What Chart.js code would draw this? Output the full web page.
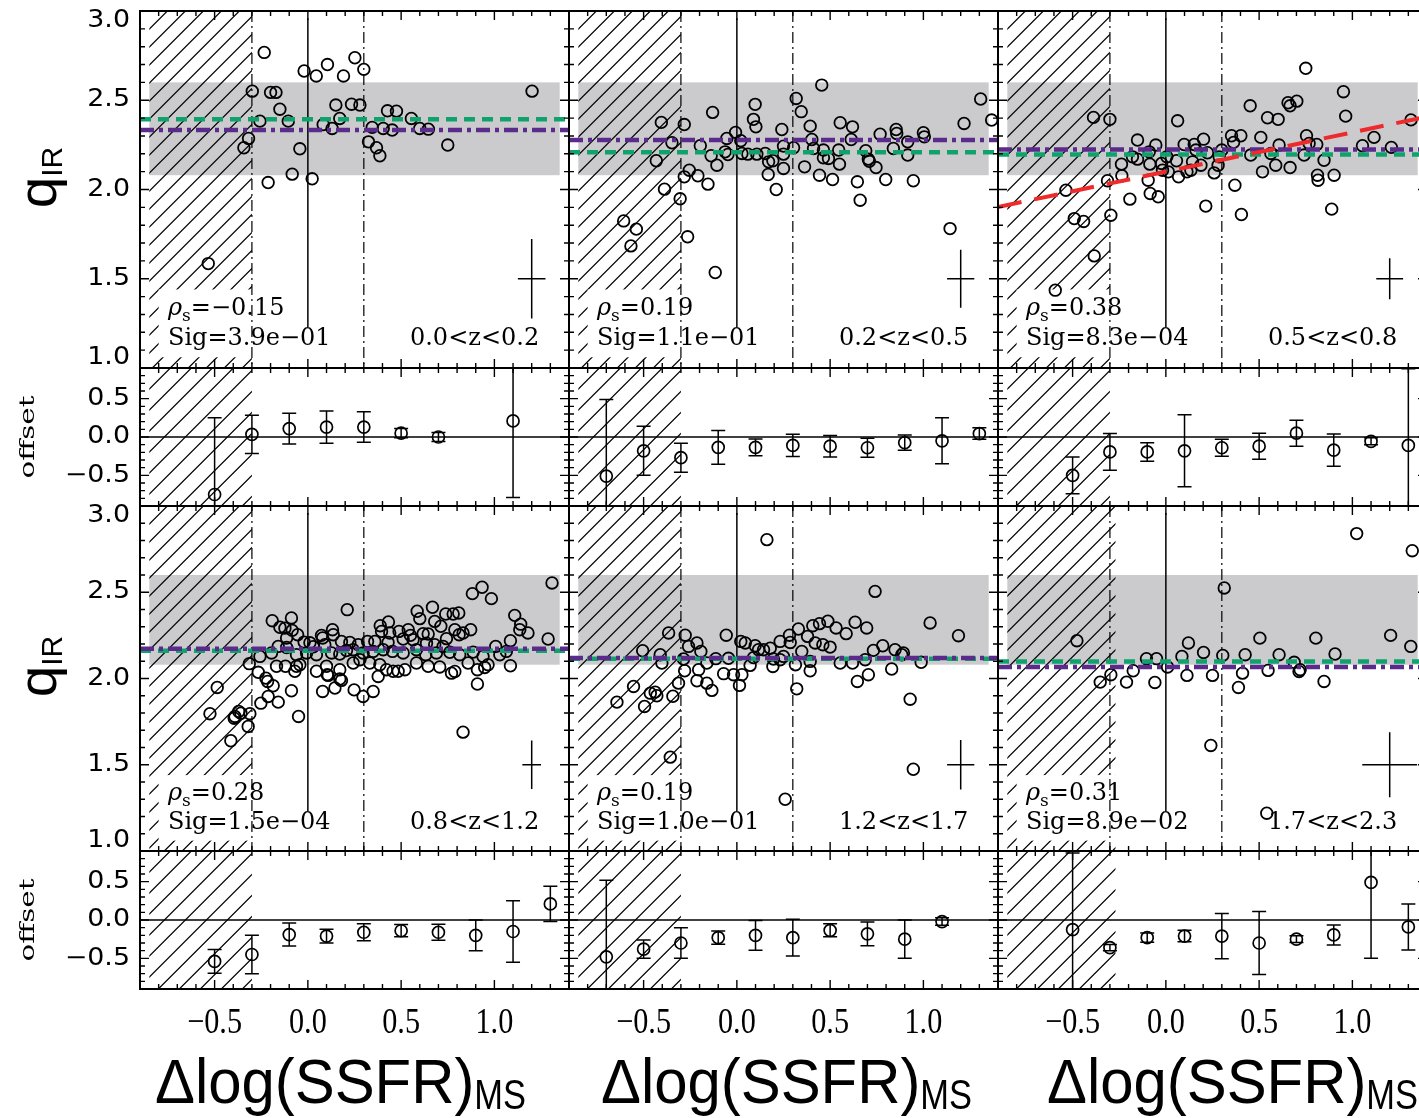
<!DOCTYPE html>
<html>
<head>
<meta charset="utf-8">
<script src="https://cdn.jsdelivr.net/npm/chart.js@4.4.1/dist/chart.umd.min.js"></script>
<style>
  html, body { margin: 0; padding: 0; background: #fff; overflow: hidden; }
  #fig { position: relative; width: 1419px; height: 1118px; overflow: hidden; background: #fff; }
  #fig canvas { position: absolute; }
</style>
</head>
<body>
<div id="fig"></div>
<script>
// ---- redshift bins and statistics ----
const zBins = ['0.0<z<0.2', '0.2<z<0.5', '0.5<z<0.8', '0.8<z<1.2', '1.2<z<1.7', '1.7<z<2.3'];
const rhoS = ['\u22120.15', '0.19', '0.38', '0.28', '0.19', '0.31'];
const sigVals = ['3.9e\u221201', '1.1e\u221201', '8.3e\u221204', '1.5e\u221204', '1.0e\u221201', '8.9e\u221202'];

// median / mean qIR of each bin
const qGreen = [2.393, 2.209, 2.196, 2.161, 2.115, 2.099];
const qPurple = [2.333, 2.277, 2.224, 2.173, 2.119, 2.067];

// typical uncertainty cross
const crossAt = [1.2, 1.5];
const crossErrX = [0.074, 0.073, 0.072, 0.05, 0.073, 0.147];
const crossErrY = [0.222, 0.162, 0.115, 0.141, 0.143, 0.189];

// excluded (hatched) region and reference band
const hatchStart = -0.85;
const hatchEnd = [-0.3, -0.3, -0.3, -0.3, -0.3, -0.27];
const bandX = [-0.85, 1.35];
const bandQ = [2.08, 2.60];
const msLines = [-0.3, 0.3];
const zeroLine = [1.23, 2.96];

// linear fit shown for 0.5<z<0.8
const fitX = [-0.9, 1.4];
const fitY = [1.902, 2.408];

// axis ranges and tick labels
const xRange = [-0.9, 1.4];
const qRange = [1.0, 3.0];
const offRange = [-0.9, 0.9];
const xTickVals = [-0.5, 0.0, 0.5, 1.0];
const qTickVals = [1.0, 1.5, 2.0, 2.5, 3.0];
const offTickVals = [-0.5, 0.0, 0.5];

// ---- individual galaxies: [dlog(SSFR)_MS, qIR] ----
const pts1 = [[-0.234,2.768],[-0.534,1.585],[-0.298,2.551],[-0.2,2.544],[-0.171,2.544],[-0.15,2.45],[-0.257,2.383],[-0.105,2.383],[-0.318,2.286],[-0.343,2.234],[-0.213,2.039],[-0.084,2.086],[-0.043,2.228],[-0.02,2.664],[0.045,2.636],[0.023,2.06],[0.105,2.70],[0.252,2.738],[0.30,2.673],[0.191,2.636],[0.15,2.473],[0.171,2.398],[0.082,2.364],[0.13,2.342],[0.234,2.478],[0.279,2.473],[0.345,2.348],[0.325,2.267],[0.368,2.234],[0.386,2.189],[0.404,2.342],[0.452,2.333],[0.427,2.441],[0.475,2.439],[0.555,2.398],[0.6,2.342],[0.646,2.338],[0.75,2.249],[1.202,2.551]];

const pts2 = [[0.455,2.585],[1.307,2.507],[0.318,2.510],[0.345,2.436],[0.098,2.477],[0.089,2.393],[0.102,2.351],[-0.13,2.432],[-0.405,2.376],[-0.282,2.364],[1.366,2.389],[1.218,2.370],[0.393,2.355],[0.554,2.374],[0.62,2.351],[0.241,2.336],[-0.007,2.320],[-0.054,2.286],[0.021,2.273],[0.402,2.280],[-0.348,2.262],[-0.196,2.245],[0.768,2.310],[0.854,2.336],[0.857,2.314],[1.0,2.318],[1.005,2.295],[0.916,2.267],[0.613,2.280],[0.25,2.243],[0.304,2.234],[0.411,2.230],[0.464,2.221],[0.546,2.221],[0.691,2.217],[0.839,2.230],[-0.063,2.211],[-0.048,2.196],[0.027,2.202],[0.059,2.198],[0.107,2.198],[0.152,2.202],[-0.138,2.189],[0.25,2.198],[-0.432,2.161],[-0.107,2.136],[0.17,2.155],[0.193,2.161],[0.464,2.178],[0.491,2.174],[0.55,2.142],[0.705,2.170],[0.71,2.158],[0.916,2.193],[0.363,2.127],[0.25,2.118],[0.746,2.123],[-0.255,2.108],[-0.282,2.071],[-0.209,2.077],[-0.155,2.030],[0.168,2.084],[0.443,2.080],[0.513,2.056],[0.646,2.043],[0.798,2.056],[0.946,2.049],[0.211,2.0],[-0.388,2.002],[-0.304,1.948],[0.661,1.940],[-0.607,1.824],[-0.539,1.778],[-0.568,1.684],[-0.264,1.735],[-0.116,1.535],[1.143,1.781]];

const pts3 = [[0.75,2.679],[0.952,2.548],[0.964,2.411],[0.452,2.469],[0.655,2.486],[0.666,2.469],[0.702,2.495],[0.545,2.402],[0.602,2.393],[0.063,2.385],[-0.388,2.404],[-0.3,2.393],[-0.152,2.277],[-0.054,2.249],[-0.089,2.211],[-0.152,2.170],[-0.179,2.183],[-0.238,2.142],[-0.086,2.142],[-0.023,2.146],[0.005,2.183],[-0.018,2.108],[0.013,2.099],[0.057,2.161],[-0.236,2.077],[-0.313,2.049],[-0.095,2.052],[-0.084,1.978],[-0.041,1.959],[-0.193,1.946],[-0.295,1.856],[-0.536,1.996],[-0.491,1.837],[-0.441,1.821],[-0.384,1.628],[-0.593,1.436],[0.098,2.252],[0.152,2.252],[0.202,2.282],[0.161,2.221],[0.223,2.206],[0.143,2.155],[0.113,2.099],[0.068,2.071],[0.134,2.108],[0.188,2.136],[0.259,2.093],[0.214,1.907],[0.3,2.221],[0.286,2.183],[0.28,2.136],[0.352,2.301],[0.402,2.301],[0.363,2.264],[0.37,2.024],[0.405,1.860],[0.455,2.193],[0.509,2.292],[0.518,2.099],[0.563,2.202],[0.607,2.249],[0.589,2.136],[0.666,2.123],[0.754,2.301],[0.768,2.258],[0.741,2.193],[0.809,2.252],[0.848,2.164],[0.813,2.080],[0.816,2.052],[0.902,2.080],[0.889,1.890],[1.054,2.245],[1.116,2.292],[1.209,2.236],[1.314,2.39]];

const pts4 = [[1.309,2.554],[0.934,2.529],[0.882,2.492],[0.984,2.463],[0.211,2.399],[0.668,2.413],[0.586,2.390],[0.739,2.374],[0.779,2.374],[0.809,2.380],[1.109,2.366],[-0.191,2.335],[-0.088,2.351],[0.6,2.347],[0.68,2.331],[0.713,2.303],[1.141,2.315],[1.136,2.283],[1.18,2.264],[-0.15,2.297],[-0.123,2.292],[-0.084,2.279],[0.388,2.306],[0.432,2.328],[0.132,2.283],[-0.055,2.254],[-0.114,2.235],[0.079,2.235],[0.073,2.250],[0.136,2.254],[0.395,2.273],[0.439,2.264],[0.489,2.273],[0.538,2.283],[0.55,2.250],[0.618,2.260],[0.645,2.258],[0.743,2.231],[0.788,2.283],[0.811,2.254],[0.832,2.264],[0.873,2.283],[1.086,2.219],[1.288,2.229],[1.007,2.186],[-0.02,2.211],[0.011,2.207],[0.029,2.184],[0.091,2.196],[0.18,2.215],[0.225,2.209],[0.27,2.196],[0.32,2.215],[0.359,2.215],[0.43,2.209],[0.511,2.229],[0.564,2.225],[0.636,2.205],[0.68,2.196],[0.725,2.186],[-0.159,2.186],[-0.114,2.180],[-0.257,2.128],[-0.195,2.148],[-0.061,2.138],[-0.007,2.148],[0.046,2.138],[0.127,2.148],[0.171,2.142],[0.207,2.162],[0.243,2.167],[0.296,2.148],[0.35,2.157],[0.404,2.167],[0.454,2.157],[0.511,2.148],[0.582,2.167],[0.632,2.138],[0.689,2.148],[0.761,2.152],[0.814,2.138],[0.886,2.153],[0.939,2.128],[1.029,2.138],[1.064,2.157],[-0.314,2.086],[-0.266,2.036],[-0.168,2.071],[-0.12,2.071],[-0.07,2.042],[-0.061,2.071],[-0.043,2.080],[0.046,2.042],[0.1,2.071],[0.104,2.022],[0.171,2.051],[0.243,2.090],[0.279,2.109],[0.332,2.090],[0.386,2.080],[0.421,2.051],[0.457,2.042],[0.484,2.042],[0.52,2.051],[0.582,2.090],[0.645,2.071],[0.707,2.067],[0.77,2.031],[0.788,2.041],[0.859,2.090],[0.909,2.051],[0.948,2.064],[0.966,2.080],[1.086,2.074],[-0.225,2.002],[-0.216,1.983],[-0.186,1.958],[0.109,2.018],[0.171,1.997],[0.18,1.989],[0.377,2.012],[0.909,1.968],[-0.486,1.948],[-0.088,1.929],[0.079,1.925],[0.145,1.945],[0.248,1.934],[0.296,1.896],[0.35,1.925],[-0.213,1.896],[-0.159,1.863],[-0.252,1.857],[-0.525,1.796],[-0.391,1.780],[-0.371,1.809],[-0.359,1.799],[-0.311,1.796],[-0.395,1.770],[-0.32,1.722],[-0.413,1.639],[-0.05,1.780],[0.832,1.689]];

const pts5 = [[0.161,2.805],[0.741,2.505],[1.036,2.322],[1.188,2.248],[0.634,2.326],[0.696,2.293],[0.488,2.332],[0.443,2.318],[0.407,2.306],[0.33,2.287],[0.532,2.293],[0.586,2.260],[0.282,2.251],[0.379,2.244],[-0.057,2.251],[-0.366,2.264],[-0.277,2.251],[-0.259,2.186],[-0.214,2.206],[-0.193,2.157],[-0.505,2.161],[-0.411,2.138],[-0.402,2.090],[0.021,2.215],[0.045,2.206],[0.098,2.190],[0.116,2.167],[0.143,2.167],[0.179,2.176],[0.232,2.215],[0.25,2.128],[0.286,2.209],[0.348,2.157],[0.42,2.206],[0.461,2.196],[0.5,2.182],[0.732,2.163],[0.782,2.190],[0.848,2.167],[0.893,2.148],[0.884,2.138],[-0.286,2.113],[-0.113,2.115],[-0.045,2.117],[0.089,2.121],[0.196,2.113],[0.232,2.109],[0.314,2.080],[0.393,2.099],[0.554,2.090],[0.62,2.090],[0.688,2.109],[0.988,2.094],[-0.161,2.090],[-0.205,2.051],[0.071,2.076],[0.193,2.070],[0.393,2.045],[-0.28,2.045],[-0.071,2.028],[-0.018,2.022],[0.027,2.022],[-0.313,1.973],[-0.214,1.987],[-0.161,1.973],[-0.134,1.931],[0.014,1.960],[0.646,1.983],[0.705,2.022],[0.83,2.055],[0.321,1.940],[0.929,1.880],[-0.554,1.954],[-0.643,1.863],[-0.464,1.915],[-0.438,1.921],[-0.429,1.900],[-0.495,1.838],[-0.343,1.897],[-0.357,1.544],[0.946,1.474],[0.259,1.300]];

const pts6 = [[1.023,2.840],[1.321,2.741],[0.313,2.525],[-0.477,2.219],[0.121,2.206],[0.086,2.128],[0.202,2.151],[0.305,2.134],[0.425,2.138],[0.504,2.234],[0.607,2.138],[0.804,2.234],[0.907,2.142],[1.205,2.250],[1.313,2.186],[-0.104,2.115],[-0.05,2.115],[0.009,2.067],[0.688,2.094],[0.72,2.051],[0.714,2.041],[0.548,2.047],[-0.295,2.022],[-0.352,1.979],[-0.211,1.979],[-0.175,2.045],[-0.059,1.977],[0.113,2.018],[0.25,2.018],[0.411,2.031],[0.389,1.948],[0.848,1.983],[0.241,1.612],[0.541,1.219]];

// ---- binned offsets with errors ----
const offX1 = [-0.5, -0.3, -0.1, 0.1, 0.3, 0.5, 0.7, 1.1];
const off1 = [-0.75, 0.035, 0.11, 0.13, 0.13, 0.05, 0.0, 0.21];
const offErr1 = [1.0, 0.25, 0.2, 0.21, 0.2, 0.06, 0.06, 1.0];

const offX2 = [-0.7, -0.5, -0.3, -0.1, 0.1, 0.3, 0.5, 0.7, 0.9, 1.1, 1.3];
const off2 = [-0.51, -0.18, -0.27, -0.135, -0.135, -0.11, -0.12, -0.14, -0.074, -0.05, 0.045];
const offErr2 = [1.0, 0.32, 0.19, 0.22, 0.11, 0.145, 0.14, 0.125, 0.1, 0.3, 0.075];

const offX3 = [-0.5, -0.3, -0.1, 0.1, 0.3, 0.5, 0.7, 0.9, 1.1, 1.3];
const off3 = [-0.5, -0.195, -0.195, -0.18, -0.14, -0.12, 0.05, -0.17, -0.056, -0.11];
const offErr3 = [0.24, 0.24, 0.12, 0.47, 0.11, 0.17, 0.17, 0.21, 0.045, 1.0];

const offX4 = [-0.5, -0.3, -0.1, 0.1, 0.3, 0.5, 0.7, 0.9, 1.1, 1.3];
const off4 = [-0.54, -0.45, -0.19, -0.21, -0.16, -0.14, -0.16, -0.20, -0.15, 0.21];
const offErr4 = [0.155, 0.25, 0.15, 0.09, 0.11, 0.08, 0.105, 0.2, 0.4, 0.23];

const offX5 = [-0.7, -0.5, -0.3, -0.1, 0.1, 0.3, 0.5, 0.7, 0.9, 1.1];
const off5 = [-0.48, -0.38, -0.30, -0.23, -0.2, -0.23, -0.135, -0.18, -0.25, -0.02];
const offErr5 = [1.0, 0.12, 0.2, 0.085, 0.195, 0.24, 0.085, 0.155, 0.25, 0.05];

const offX6 = [-0.5, -0.3, -0.1, 0.1, 0.3, 0.5, 0.7, 0.9, 1.1, 1.3];
const off6 = [-0.126, -0.36, -0.23, -0.21, -0.21, -0.30, -0.25, -0.195, 0.49, -0.09];
const offErr6 = [1.0, 0.04, 0.06, 0.075, 0.295, 0.41, 0.045, 0.13, 0.99, 0.3];

const galaxies = [pts1, pts2, pts3, pts4, pts5, pts6];
const offsets = [[offX1, off1, offErr1], [offX2, off2, offErr2], [offX3, off3, offErr3],
                 [offX4, off4, offErr4], [offX5, off5, offErr5], [offX6, off6, offErr6]];

// ---- page geometry ----
const colLeft = [140, 569, 998];
const colWidth = 429;
const titleShift = [-14, 3, 20];
const rows = [
  {main: [11, 357], off: [368, 138]},
  {main: [506, 345], off: [851, 138]},
];

const INK = '#000';
const GREEN = '#0fa26c';
const PURPLE = '#5a2b8b';
const RED = '#ee2a2a';
const GREY = '#cbcbcd';
const serif = '"DejaVu Serif", serif';
const sans = '"Liberation Sans", Arial, sans-serif';

const fig = document.getElementById('fig');
const fmt = v => v.toFixed(1).replace('-', '\u2212');

// write a row of text pieces (font changes, sub/superscripts) starting at x,y
function drawRuns(ctx, parts, x, y, align, rot) {
  ctx.save();
  ctx.translate(x, y);
  if (rot) ctx.rotate(rot);
  const widths = parts.map(p => { ctx.font = p.font; return ctx.measureText(p.t).width * (p.sx || 1); });
  const total = widths.reduce((s, w) => s + w, 0);
  let cx = align === 'center' ? -total / 2 : align === 'right' ? -total : 0;
  parts.forEach((p, i) => {
    ctx.save();
    ctx.translate(cx, p.dy || 0);
    ctx.scale(p.sx || 1, p.sy || 1);
    ctx.font = p.font;
    ctx.fillStyle = INK;
    ctx.textAlign = 'left';
    ctx.textBaseline = p.base || 'alphabetic';
    ctx.fillText(p.t, 0, 0);
    ctx.restore();
    cx += widths[i];
  });
  ctx.restore();
}

function hatch(ctx, x0, x1, y0, y1, step) {
  ctx.save();
  ctx.beginPath();
  ctx.rect(x0, y0, x1 - x0, y1 - y0);
  ctx.clip();
  ctx.beginPath();
  const h = y1 - y0;
  for (let s = x0 - h; s < x1 + step; s += step) {
    ctx.moveTo(s, y1);
    ctx.lineTo(s + h, y0);
  }
  ctx.lineWidth = 1.2;
  ctx.strokeStyle = INK;
  ctx.stroke();
  ctx.restore();
}

// frame with inward ticks on every side, minor every 0.1, major every 0.5
function frame(ctx, a, x, y) {
  ctx.save();
  ctx.strokeStyle = INK;
  ctx.lineWidth = 1.4;
  ctx.beginPath();
  for (let i = Math.ceil(x.min * 10 - 1e-6); i <= Math.floor(x.max * 10 + 1e-6); i++) {
    const p = x.getPixelForValue(i / 10);
    const len = i % 5 === 0 ? 9 : 5;
    ctx.moveTo(p, a.bottom); ctx.lineTo(p, a.bottom - len);
    ctx.moveTo(p, a.top); ctx.lineTo(p, a.top + len);
  }
  for (let i = Math.ceil(y.min * 10 - 1e-6); i <= Math.floor(y.max * 10 + 1e-6); i++) {
    const p = y.getPixelForValue(i / 10);
    const len = i % 5 === 0 ? 9 : 5;
    ctx.moveTo(a.left, p); ctx.lineTo(a.left + len, p);
    ctx.moveTo(a.right, p); ctx.lineTo(a.right - len, p);
  }
  ctx.stroke();
  ctx.lineWidth = 2;
  ctx.strokeRect(a.left, a.top, a.right - a.left, a.bottom - a.top);
  ctx.restore();
}

function decor(d) {
  return {
    id: 'decor',
    beforeDatasetsDraw(chart) {
      const {ctx, chartArea: a, scales: {x, y}} = chart;
      ctx.save();
      if (d.main) {
        const bx0 = x.getPixelForValue(bandX[0]), bx1 = x.getPixelForValue(bandX[1]);
        const by0 = y.getPixelForValue(bandQ[1]), by1 = y.getPixelForValue(bandQ[0]);
        ctx.fillStyle = GREY;
        ctx.fillRect(bx0, by0, bx1 - bx0, by1 - by0);
      }
      hatch(ctx, x.getPixelForValue(hatchStart), x.getPixelForValue(hatchEnd[d.k]), a.top, a.bottom, d.main ? 18 : 21);
      ctx.strokeStyle = INK;
      if (d.main) {
        // clear space behind the statistics text
        ctx.fillStyle = '#fff';
        const wx0 = x.getPixelForValue(-0.8), wx1 = x.getPixelForValue(hatchEnd[d.k]) + 2;
        const wy0 = y.getPixelForValue(1.44), wy1 = y.getPixelForValue(1.06);
        ctx.fillRect(wx0, wy0, wx1 - wx0, wy1 - wy0);
        // main-sequence boundaries
        ctx.lineWidth = 1.2;
        ctx.setLineDash([11, 4, 2, 4]);
        ctx.beginPath();
        msLines.forEach(v => {
          const p = x.getPixelForValue(v);
          ctx.moveTo(p, a.top); ctx.lineTo(p, a.bottom);
        });
        ctx.stroke();
        ctx.setLineDash([]);
        ctx.lineWidth = 1.5;
        ctx.beginPath();
        const p0 = x.getPixelForValue(0);
        ctx.moveTo(p0, y.getPixelForValue(zeroLine[1]));
        ctx.lineTo(p0, y.getPixelForValue(zeroLine[0]));
        ctx.stroke();
      } else {
        ctx.lineWidth = 1.3;
        ctx.beginPath();
        const p0 = y.getPixelForValue(0);
        ctx.moveTo(a.left, p0); ctx.lineTo(a.right, p0);
        ctx.stroke();
        // error bars on the binned offsets
        ctx.save();
        ctx.beginPath();
        ctx.rect(a.left, a.top, a.right - a.left, a.bottom - a.top);
        ctx.clip();
        const [bx, by, be] = offsets[d.k];
        ctx.lineWidth = 1.5;
        ctx.beginPath();
        bx.forEach((v, i) => {
          const px = x.getPixelForValue(v);
          const hi = y.getPixelForValue(by[i] + be[i]);
          const lo = y.getPixelForValue(by[i] - be[i]);
          ctx.moveTo(px, hi); ctx.lineTo(px, lo);
          ctx.moveTo(px - 7, hi); ctx.lineTo(px + 7, hi);
          ctx.moveTo(px - 7, lo); ctx.lineTo(px + 7, lo);
        });
        ctx.stroke();
        ctx.restore();
      }
      ctx.restore();
    },
    afterDatasetsDraw(chart) {
      const {ctx, chartArea: a, scales: {x, y}} = chart;
      ctx.save();
      if (d.main) {
        // typical error cross
        const cx = x.getPixelForValue(crossAt[0]), cy = y.getPixelForValue(crossAt[1]);
        const ex = x.getPixelForValue(crossAt[0] + crossErrX[d.k]) - cx;
        const ey = cy - y.getPixelForValue(crossAt[1] + crossErrY[d.k]);
        ctx.strokeStyle = INK;
        ctx.lineWidth = 1.5;
        ctx.beginPath();
        ctx.moveTo(cx - ex, cy); ctx.lineTo(cx + ex, cy);
        ctx.moveTo(cx, cy - ey); ctx.lineTo(cx, cy + ey);
        ctx.stroke();
        // statistics and redshift range
        const big = '24px ' + serif;
        const tx = x.getPixelForValue(-0.75);
        drawRuns(ctx, [
          {t: '\u03c1', font: 'italic 24px ' + serif},
          {t: 's', font: '17px ' + serif, dy: 6},
          {t: '=' + rhoS[d.k], font: big},
        ], tx, y.getPixelForValue(1.297), 'left');
        drawRuns(ctx, [{t: 'Sig=' + sigVals[d.k], font: big}], tx, y.getPixelForValue(1.128), 'left');
        drawRuns(ctx, [{t: zBins[d.k], font: big}], x.getPixelForValue(1.24), y.getPixelForValue(1.128), 'right');
      }
      frame(ctx, a, x, y);

      // left-hand axis labels
      if (d.col === 0) {
        const vals = d.main ? qTickVals : offTickVals;
        vals.forEach(v => {
          let p = y.getPixelForValue(v);
          if (v === y.max) p += 10;
          if (v === y.min) p -= 10;
          drawRuns(ctx, [{t: fmt(v), font: '24px "DejaVu Sans", sans-serif', base: 'middle', sx: 1.12}], a.left - 10, p, 'right');
        });
        const midY = (a.top + a.bottom) / 2;
        if (d.main) {
          drawRuns(ctx, [
            {t: 'q', font: '54px ' + sans, sx: 1.05},
            {t: 'IR', font: '30px ' + sans, dy: 6},
          ], a.left - 84, midY - 12, 'center', -Math.PI / 2);
        } else {
          drawRuns(ctx, [{t: 'offset', font: '21px ' + serif, sx: 1.4}], a.left - 106, y.getPixelForValue(0), 'center', -Math.PI / 2);
        }
      }
      // bottom axis labels
      if (d.bottom) {
        xTickVals.forEach(v => {
          drawRuns(ctx, [{t: fmt(v), font: '36px "Liberation Serif", serif', sx: 0.84}], x.getPixelForValue(v), a.bottom + 44, 'center');
        });
        drawRuns(ctx, [
          {t: '\u0394log(SSFR)', font: '63px ' + sans, sx: 0.95},
          {t: 'MS', font: '42px ' + sans, sx: 0.82, dy: 6},
        ], (a.left + a.right) / 2 + titleShift[d.col], a.bottom + 114, 'center');
      }
      ctx.restore();
    }
  };
}

function makePanel(k, main) {
  const col = k % 3, r = rows[Math.floor(k / 3)];
  const [top, h] = main ? r.main : r.off;
  const bottom = !main && k >= 3;
  const pad = {left: col === 0 ? 140 : 12, right: 12, top: 12, bottom: bottom ? 130 : 12};
  const W = colWidth + pad.left + pad.right, H = h + pad.top + pad.bottom;
  const c = document.createElement('canvas');
  c.width = W; c.height = H;
  c.style.left = (colLeft[col] - pad.left) + 'px';
  c.style.top = (top - pad.top) + 'px';
  c.style.width = W + 'px';
  c.style.height = H + 'px';
  fig.appendChild(c);

  const circle = {pointStyle: 'circle', pointBorderColor: INK, pointBackgroundColor: 'rgba(0,0,0,0)', showLine: false, clip: false};
  let datasets;
  if (main) {
    datasets = [
      {...circle, data: galaxies[k].map(p => ({x: p[0], y: p[1]})), pointRadius: 5.8, pointBorderWidth: 1.8, order: 5},
      {type: 'line', data: xRange.map(v => ({x: v, y: qGreen[k]})), borderColor: GREEN, borderWidth: 4.5, borderDash: [11, 7], pointRadius: 0, order: 3},
      {type: 'line', data: xRange.map(v => ({x: v, y: qPurple[k]})), borderColor: PURPLE, borderWidth: 4.5, borderDash: [14, 5, 4, 5], pointRadius: 0, order: 2},
    ];
    if (k === 2) {
      datasets.push({type: 'line', data: fitX.map((v, i) => ({x: v, y: fitY[i]})), borderColor: RED, borderWidth: 4, borderDash: [24, 13], pointRadius: 0, order: 1});
    }
  } else {
    const [bx, by] = offsets[k];
    datasets = [{...circle, data: bx.map((v, i) => ({x: v, y: by[i]})), pointRadius: 6, pointBorderWidth: 1.7}];
  }

  new Chart(c, {
    type: 'scatter',
    data: {datasets},
    options: {
      responsive: false,
      animation: false,
      devicePixelRatio: 1,
      events: [],
      layout: {padding: pad},
      plugins: {legend: {display: false}, tooltip: {enabled: false}},
      scales: {
        x: {type: 'linear', min: xRange[0], max: xRange[1], display: false},
        y: {type: 'linear', min: main ? qRange[0] : offRange[0], max: main ? qRange[1] : offRange[1], display: false},
      },
    },
    plugins: [decor({k, col, main, bottom})],
  });
}

for (let k = 0; k < 6; k++) {
  makePanel(k, true);
  makePanel(k, false);
}
</script>
</body>
</html>
